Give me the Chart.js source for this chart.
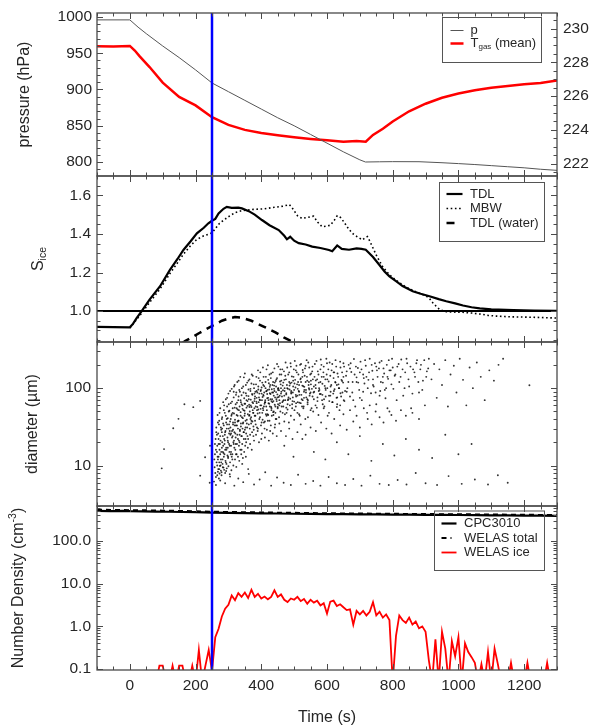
<!DOCTYPE html>
<html>
<head>
<meta charset="utf-8">
<script src="https://cdn.jsdelivr.net/npm/chart.js@4.4.1/dist/chart.umd.min.js"></script>
<style>
  html, body { margin: 0; padding: 0; background: #fff; }
  #wrap { position: relative; width: 591px; height: 727px; }
  canvas { position: absolute; left: 0; top: 0; }
</style>
</head>
<body>
<div id="wrap">
  <canvas id="c1" width="591" height="727"></canvas>
  <canvas id="c2" width="591" height="727"></canvas>
  <canvas id="c3" width="591" height="727"></canvas>
  <canvas id="c4" width="591" height="727"></canvas>
</div>
<script>
// ---- data ----
const timeLabels = [0, 200, 400, 600, 800, 1000, 1200];
const markerTime = 250;

// panel 1: chamber pressure (hPa) and mean gas temperature (K)
const pressure = [[-100,996],[0,996],[25,986],[50,977],[100,960],[150,944],[200,927],[250,909],[300,897],[350,885],
  [400,873],[450,861],[500,850],[550,838],[600,826],[650,814],[700,803],[717,800],[760,800.3],[800,800.5],[880,800.4],
  [950,799],[1000,797.8],[1050,796.5],[1100,795],[1150,793.5],[1200,792],[1250,790],[1300,788.5]];
const gasTemp = [[-100,228.95],[-50,228.93],[0,228.97],[15,228.7],[30,228.35],[60,227.72],[100,226.8],[150,225.95],
  [200,225.45],[250,224.75],[300,224.3],[350,224.0],[400,223.82],[450,223.68],[500,223.56],[550,223.46],[600,223.38],
  [650,223.3],[690,223.34],[718,223.3],[740,223.7],[770,224.07],[800,224.5],[850,225.1],[900,225.55],[950,225.9],
  [1000,226.15],[1050,226.35],[1100,226.5],[1150,226.6],[1200,226.7],[1250,226.78],[1300,226.92]];
const pressLabels = [800, 850, 900, 950, 1000];
const tempLabels = [222, 224, 226, 228, 230];

// panel 2: saturation ratio
const sIceTDL = [[-100,0.918],[-50,0.917],[0,0.916],[10,0.935],[20,0.962],[36,1.0],[60,1.06],[92,1.129],[122,1.214],
  [145,1.27],[163,1.317],[185,1.362],[204,1.403],[225,1.432],[239,1.455],[250,1.468],[260,1.478],[270,1.506],[285,1.53],
  [295,1.54],[310,1.535],[330,1.536],[341,1.532],[362,1.518],[380,1.5],[402,1.472],[425,1.445],[453,1.42],[470,1.39],
  [478,1.372],[488,1.385],[500,1.365],[514,1.352],[535,1.345],[555,1.334],[580,1.327],[606,1.317],[616,1.31],[631,1.34],
  [645,1.322],[667,1.318],[690,1.325],[705,1.322],[718,1.318],[740,1.28],[759,1.24],[775,1.205],[790,1.18],[810,1.155],
  [830,1.13],[861,1.103],[885,1.09],[912,1.077],[940,1.062],[963,1.051],[990,1.04],[1014,1.029],[1040,1.02],[1065,1.014],
  [1100,1.009],[1167,1.005],[1230,1.003],[1300,1.001]];
const sIceMBW = [[0,0.912],[36,0.99],[60,1.045],[92,1.115],[122,1.195],[145,1.25],[163,1.295],[185,1.34],[204,1.372],
  [225,1.39],[250,1.405],[273,1.455],[300,1.489],[320,1.51],[340,1.52],[376,1.527],[410,1.53],[440,1.538],[468,1.544],
  [485,1.552],[492,1.54],[500,1.52],[510,1.495],[524,1.48],[540,1.485],[559,1.492],[572,1.46],[585,1.437],[598,1.44],
  [610,1.445],[622,1.47],[631,1.494],[641,1.485],[651,1.463],[664,1.43],[677,1.403],[692,1.385],[708,1.369],[716,1.38],
  [723,1.386],[731,1.36],[738,1.334],[750,1.29],[769,1.231],[789,1.19],[810,1.16],[840,1.125],[870,1.1],[900,1.08],
  [912,1.065],[922,1.043],[935,1.02],[943,1.008],[963,0.997],[990,0.995],[1014,0.994],[1040,0.99],[1065,0.985],
  [1090,0.978],[1116,0.974],[1140,0.972],[1167,0.97],[1200,0.969],[1250,0.967],[1300,0.964]];
const sWaterTDL = [[160,0.835],[168,0.845],[190,0.865],[214,0.889],[250,0.923],[280,0.95],[305,0.964],[320,0.969],
  [340,0.966],[370,0.95],[407,0.92],[443,0.89],[470,0.862],[495,0.842],[510,0.83]];
const sLabels = [1.0, 1.2, 1.4, 1.6];

// panel 3: single particle diameters (um)
const iceSizes = [
  [97,9.2],[104,16.3],[132,30.4],[148,40.1],[166,62],[193,56.8],[214,68.5],[214,7.4],[229,12.8],[244,18],[243,6.0],
  [256,6.2],[258,9.5],[259,14],[261,22],[262,7.1],[263,31],[264,11],[266,18],[267,45],[268,8.3],[269,26],[270,13],
  [271,6.8],[272,38],[273,16],[274,9.9],[275,55],[276,21],[277,12],[278,29],[279,7.5],[280,17],[281,42],[282,10.5],
  [283,24],[284,66],[285,14.5],[286,33],[287,8.8],[288,19],
  [289,48],[290,27],[291,11.5],[292,72],[293,36],[294,16],[295,9.2],[296,58],[297,23],[298,41],[299,13],[300,85],
  [301,30],[302,19],[303,51],[304,7.7],[305,37],[306,25],[307,64],[308,15],[309,44],[310,98],[311,28],[312,12],
  [313,55],[314,34],[315,20],[316,76],[317,47],[318,17],[319,110],[320,39],
  [321,26],[322,62],[323,14],[324,88],[325,45],[326,33],[327,120],[328,53],[329,22],[330,70],[331,38],[332,18],
  [333,95],[334,58],[335,29],[336,140],[337,49],[338,66],[339,24],[340,81],[341,42],[342,10.5],[343,60],[344,35],
  [345,105],[346,52],[347,27],[348,74],[349,44],[350,155],[351,63],[352,31],[353,86],[354,20],[355,56],[356,39],
  [357,118],[358,68],[359,46],[360,9],[361,79],[362,34],[363,61],[364,130],[365,50],[366,25],[367,92],[368,71],
  [369,42],[370,57],[371,16],[372,84],[373,37],[374,145],[375,64],[376,48],[377,29],[378,100],[379,55],[380,73],
  [382,44],[384,112],[385,67],[387,31],[388,88],[390,170],[391,53],[393,76],[394,40],[396,125],[397,60],[399,95],
  [400,22],[402,70],[403,48],[405,185],[406,82],[408,58],[409,106],[411,37],[412,66],[414,140],[415,91],[417,52],
  [418,74],[420,198],[421,45],[423,116],[424,63],[426,86],[427,28],[429,135],[430,57],[432,97],[433,72],[435,160],
  [436,49],[438,80],[439,108],[441,61],[442,34],[444,124],[445,89],[447,68],[448,205],[450,55],[451,99],[453,77],
  [454,42],[456,150],[457,64],[459,112],[460,85],
  [462,58],[464,175],[466,94],[468,70],[470,128],[472,46],[474,215],[476,83],[478,110],[480,62],[482,150],[484,36],
  [486,96],[488,73],[490,190],[492,118],[494,55],[496,88],[498,140],[500,67],[502,225],[504,102],[506,78],[508,160],
  [510,48],[512,120],[514,92],[516,65],[518,200],[520,134],[522,82],[524,58],[526,172],[528,106],[530,75],[532,145],
  [534,40],[536,95],[538,230],[540,125],[542,70],[544,110],[546,185],[548,85],[550,52],[552,155],[554,98],
  [557,130],[560,72],[563,205],[566,100],[569,56],[572,165],[575,118],[578,84],[581,235],[584,140],[587,62],[590,190],
  [593,107],[596,78],[599,150],[602,44],[605,122],[608,215],[611,90],[614,170],[617,66],[620,135],[623,97],[626,230],
  [629,75],[632,155],[635,112],[638,52],[641,185],[644,128],[647,88],[650,210],[653,68],
  [658,145],[662,100],[666,200],[670,78],[674,162],[678,120],[682,238],[686,58],[690,138],[694,182],[698,95],[702,220],
  [706,70],[710,150],[714,115],[718,195],[722,48],[726,128],[730,240],[734,86],[738,168],[742,105],[746,210],[750,62],
  [754,140],[758,180],[762,92],[766,225],[770,118],[774,155],[778,74],[782,200],[786,132],[790,50],[794,170],[798,240],
  [802,98],[806,145],
  [814,190],[820,120],[826,235],[832,80],[838,160],[844,210],[850,105],[856,55],[862,175],[868,140],[874,230],[880,88],
  [886,200],[892,125],[898,60],[904,165],[910,240],
  [918,130],[926,205],[934,75],[942,175],[950,110],[960,230],[968,58],[976,150],[986,195],[994,88],[1004,240],
  [1014,128],[1024,60],[1034,185],[1044,100],[1056,215],[1068,140],[1080,70],[1094,170],[1108,125],[1122,200],
  [1136,240],[1216,109],
  [262,5.6],[275,6.4],[290,5.9],[305,7.2],[318,5.5],[330,6.8],[345,6.1],[362,7.8],[378,5.7],[395,6.6],[412,8.2],
  [430,5.5],[448,7.0],[468,6.0],[490,5.6],[512,7.6],[535,5.8],[558,6.3],[580,5.5],[605,7.1],[630,5.9],[655,5.6],
  [680,6.7],[705,5.5],[732,7.4],[760,5.8],[788,5.6],[815,6.5],[842,5.7],[870,8.0],[900,5.9],[935,5.6],[970,7.3],
  [1010,5.8],[1050,6.6],[1090,5.7],[1120,7.5],[1150,6.0],
  [470,18],[498,13],[525,22],[560,15],[595,12],[630,20],[665,14],[700,24],[735,11.5],[770,19],[805,13.5],[840,22],
  [880,16],[920,12.5],[960,25],[1000,14],[1040,19],
  [262,16],[265,25],[268,12],[271,34],[274,19],[277,8.6],[280,27],[283,15],[286,52],[289,21],[292,11],[295,40],
  [298,17],[301,62],[304,28],[307,14],[310,46],[313,24],[316,90],[319,33],[322,19],[325,55],[328,37],[331,78],
  [334,25],[337,44],[340,62],[343,30],[346,88],[349,51],[352,38],[355,70],[358,24],[361,96],[364,57],[367,40],
  [370,115],[373,66],[376,32],[379,85],[383,58],[386,92],[389,47],[392,135],[395,71],[398,54],[401,102],[404,39],
  [407,80],[410,63],[413,120],[416,44],[419,95],[422,70],[425,150],[428,84],[431,55],[434,110],[437,68],[440,92],
  [443,48],[446,130],[449,76],[452,100],[455,60],[458,175],[461,90],[464,66],[467,118],[470,80],[473,145],[476,56],
  [479,100],[482,72],[485,160],[488,115],[491,85],[494,62],[497,125],[500,95],[505,170],[510,80],[515,110],[520,64],
  [525,140],[530,90],[535,195],[540,72],[545,120],[550,88],[555,165],[560,105],[565,60],[570,130],[575,92],[580,175],
  [585,70],[590,140],[595,100],[600,210],[610,80],[620,160],[630,110],[640,60],[650,140],[660,90],[670,180],[680,70],
  [690,120],[700,160],[710,90],[720,140],[730,60],[740,110],[750,190],[760,80],[770,140],[780,100],[790,170],
  [257,12],[259,19],[260,8],[263,27],[265,15],[266,10],[268,36],[270,22],[272,9],[273,48],[275,14],[277,31],
  [278,11],[280,40],[281,20],[283,9.5],[284,35],[286,13],[287,60],[289,25],[290,16],[292,44],[293,8.5],[295,30],
  [296,75],[298,21],[299,12.5],[301,50],[302,34],[304,18],[305,92],[307,40],[308,26],[310,13],[311,67],[313,48],
  [314,29],[316,19],[317,105],[319,56],[320,36],[322,23],[323,82],[325,14],[326,65],[328,44],[329,30],[331,125],
  [332,52],[334,20],[335,90],[337,70],[338,35],[340,16],[341,100],[343,54],[344,41],[346,27],[347,138],[349,63],
  [350,47],[352,22],[353,110],[355,80],[356,35],[358,59],[359,17],[361,125],[362,72],[364,45],[365,30],[367,98],
  [368,60],[370,38],[371,150],[373,82],[374,52],[376,24],[377,112],[379,68],[380,44],[382,90],[383,34],[385,140],
  [386,75],[388,57],[389,28],[391,105],[392,66],[394,85],[395,48],[397,160],[398,92],[400,60],[401,36],[403,118],
  [404,77],[406,52],[407,140],[409,88],[410,30],[412,70],[413,100],[415,58],[416,175],[418,84],[419,46],[421,128],
  [422,64],[424,96],[425,38],[427,110],[428,72],[430,155],[431,52],[433,88],[434,66],[436,120],[437,45],[439,98],
  [440,180],[442,76],[443,58],[445,105],[446,40],[448,135],[449,83],[451,62],[452,190],[454,94],[455,70],[457,122],
  [458,50],[460,100],
  [461,150],[463,78],[465,108],[467,58],[469,165],[471,92],[473,70],[475,130],[477,48],[479,185],[481,98],[483,76],
  [485,120],[487,60],[489,210],[491,88],[493,142],[495,68],[497,105],[499,175],[501,52],[503,128],[505,82],[507,195],
  [509,112],[511,66],[513,150],[515,90],[517,44],[519,130],[521,205],[523,72],[525,108],[527,160],[529,58],[531,95],
  [533,180],[535,120],[537,76],[539,140],[541,62],[543,215],[545,100],[547,80],[549,150],[551,125],[553,55],[556,190],
  [559,88],[562,140],[565,110],[568,225],[571,76],[574,150],[577,95],[580,120],[583,200],[586,82],[589,160],[592,58],
  [595,130],[598,240],[601,100],[604,175],[607,68],[610,145],[613,110],[616,205],[619,85],[622,160],[625,120],[628,190],
  [631,62],[634,140],[637,100],[640,220],[643,78],[646,160],[649,118],[652,190],[655,92],
  [660,165],[665,120],[672,210],[677,88],[684,150],[688,190],[695,118],[700,75],[705,175],[712,135],[716,230],[724,100],
  [728,160],[736,200],[740,130],[748,88],[752,170],[760,215],[764,120],[772,180],[776,95],[784,140],[788,230],[796,112],
  [800,185],[808,150],[812,70],[818,205],[824,140],[830,175],[836,100],[842,240],[848,130],[854,190],[860,85],[866,160],
  [872,210],[878,120],[884,175],[890,95],[896,230],[902,140],[908,180],
  [266,7.5],[267,13],[269,9],[270,19],[272,11],[273,7.9],[275,24],[276,10],[278,15],[279,8.2],[281,30],[282,12],
  [284,18],[285,9.4],[287,22],[288,14],[290,8],[291,28],[293,17],[294,10.5],[296,34],[297,13.5],[299,20],[300,9.8],
  [302,26],[303,15],[305,11],[306,31],[308,18],[309,8.7],[311,23],[312,14],[314,36],[315,10],[317,21],[318,27],
  [320,12],[321,16],[323,33],[324,9.6],[326,19],[327,25],[329,13],[330,38],[332,21],[333,11.5],[335,28],[336,16],
  [338,32],[339,14],[341,24],[342,19],[344,12.5],[345,36],[347,22],[348,15],[350,29],[351,18],[353,13],[354,26],
  [357,31],[360,22],[363,44],[366,19],[369,35],[372,27],[375,48],[378,21],[381,38],[384,25],[387,52],[390,30],
  [393,20],[396,42],[399,33],[402,26],[405,55],[408,36],[411,23],[414,46],[417,29],[420,38],[423,21],[426,58],
  [429,33],[432,44],[435,26],[438,50],[441,31],[444,40],[447,24],[450,57],[455,35],[460,28],[465,48],[470,37],
  [475,24],[480,53],[485,30],[490,44],[495,22],[500,39],[505,58],[510,27],[515,46],[520,34],[528,55],[535,25],
  [542,42],[550,31],[558,50],[566,28],[574,45],[582,36],[590,55],[598,30],[606,48],[614,26],[622,40],[630,57],
  [640,33],[650,46],[660,29],[670,52],[680,37],[690,44],[700,31],[712,55],[724,40],[736,34],[748,50],[760,42],
  [772,36],[784,55],[796,45],[810,38],[825,52],[840,44],[860,48],[880,40],
  [381,78],[386,64],[391,96],[396,70],[401,85],[406,110],[411,66],[416,92],[421,75],[426,104],[431,68],[436,88],
  [441,118],[446,72],[451,95],[456,80],[461,125],[466,68],[471,100],[476,86],[481,70],[486,108],[491,92],[496,76],
  [501,115],[506,64],[511,98],[516,82],[521,120],[526,70],[531,104],[536,88],[541,66],[546,96],[551,112],[556,78],
  [561,90],[566,126],[571,68],[576,100],[581,84],[586,114],[591,72],[596,95],[601,130],[606,80],[611,105],[616,66],
  [621,92],[626,118],[631,76],[636,100],[641,86],[646,124],[651,70]
];
const diamLabels = [10, 100];

// panel 4: number densities (cm^-3); 0.05 = nothing counted (below axis)
const cpc3010 = [[-100,508],[-60,503],[-20,506],[0,499],[40,494],[80,489],[120,484],[160,478],[200,472],[250,460],
  [300,454],[350,449],[400,444],[450,440],[500,435],[550,431],[600,427],[650,424],[700,421],[750,418],[800,416],
  [850,413],[900,410],[950,408],[1000,406],[1050,403],[1100,400],[1150,397],[1200,394],[1250,391],[1300,388]];
const welasTotal = [[-100,540],[-50,533],[0,528],[50,522],[100,514],[150,506],[200,498],[250,485],[300,478],[350,472],
  [400,466],[450,461],[500,456],[550,451],[600,446],[650,442],[700,439],[750,436],[800,433],[850,430],[900,428],
  [950,425],[1000,423],[1050,420],[1100,417],[1150,414],[1200,411],[1250,408],[1300,405]];
const welasIce = [[-100,0.05],[80,0.05],[90,0.12],[100,0.12],[110,0.05],[120,0.05],[130,0.12],[140,0.05],[150,0.12],
  [160,0.12],[170,0.05],[180,0.05],[190,0.12],[200,0.05],[210,0.28],[220,0.05],[230,0.12],[240,0.28],[250,0.09],
  [260,0.56],[270,0.88],[280,1.7],[290,2.6],[300,3.2],[310,5.3],[320,4.1],[330,6.0],[340,4.9],[350,6.2],[360,4.6],
  [370,7.2],[380,4.9],[390,5.8],[400,4.5],[410,5.0],[420,4.3],[430,4.9],[440,7.0],[450,4.9],[460,5.6],[470,4.2],
  [480,3.7],[490,4.5],[500,4.2],[510,4.9],[520,3.9],[530,4.4],[540,3.4],[550,4.2],[560,3.6],[570,4.0],[580,3.1],
  [590,3.5],[600,2.0],[610,3.8],[620,4.0],[630,3.0],[640,3.3],[650,2.8],[660,2.4],[670,2.5],[680,1.1],[690,2.3],
  [700,1.9],[710,2.3],[720,1.8],[730,2.2],[740,3.7],[750,1.8],[760,2.2],[770,1.6],[780,1.9],[790,1.4],[800,0.05],
  [810,0.6],[820,1.8],[830,1.4],[840,1.2],[850,1.6],[860,1.1],[870,1.3],[880,0.9],[890,1.0],[900,0.75],[910,0.16],
  [920,0.05],[930,0.5],[940,0.05],[950,0.75],[960,0.3],[970,0.05],[980,0.45],[990,0.2],[1000,0.56],[1010,0.05],
  [1020,0.4],[1030,0.25],[1040,0.19],[1050,0.14],[1060,0.05],[1070,0.13],[1080,0.05],[1090,0.25],[1100,0.05],
  [1110,0.3],[1120,0.13],[1130,0.05],[1150,0.05],[1160,0.14],[1170,0.05],[1200,0.05],[1210,0.14],[1220,0.05],
  [1260,0.05],[1270,0.14],[1280,0.05],[1300,0.05]];
const densityLabels = [0.1, 1, 10, 100];

// ---- look ----
const H = 727;
const FONT = '"Liberation Sans", Arial, Helvetica, sans-serif';
const TXT = '#262626';
const AXIS = '#4a4a4a';
Chart.defaults.font.family = FONT;
Chart.defaults.color = TXT;

const xy = arr => arr.map(([x, y]) => ({x, y}));
const steps = (a, b, s) => { const out = []; for (let v = a; v <= b + 1e-9; v += s) out.push(+v.toFixed(4)); return out; };
const logMinor = (lo, hi) => { const out = []; for (let e = lo; e <= hi; e++) for (let m = 2; m <= 9; m++) out.push(+(m * Math.pow(10, e)).toPrecision(3)); return out; };
const without = (vals, majors) => vals.filter(v => !majors.some(m => Math.abs(m - v) < 1e-6));

function drawParts(ctx, t) {
  ctx.save();
  ctx.translate(t.x, t.y);
  if (t.rotate) ctx.rotate(-Math.PI / 2);
  ctx.textBaseline = 'middle';
  ctx.fillStyle = TXT;
  const widths = t.parts.map(p => { ctx.font = p.size + 'px ' + FONT; return ctx.measureText(p.t).width; });
  let cx = t.align === 'left' ? 0 : -widths.reduce((a, b) => a + b, 0) / 2;
  t.parts.forEach((p, i) => {
    ctx.font = p.size + 'px ' + FONT;
    ctx.fillText(p.t, cx, p.dy || 0);
    cx += widths[i];
  });
  ctx.restore();
}

function drawLegend(chart, lg) {
  const ctx = chart.ctx;
  ctx.save();
  ctx.strokeStyle = '#555';
  ctx.lineWidth = 1;
  const [x1, y1, x2, y2] = lg.box;
  ctx.strokeRect(x1 + 0.5, y1 + 0.5, x2 - x1, y2 - y1);
  lg.rows.forEach(r => {
    const ds = chart.data.datasets[r.ds];
    const [s1, s2] = r.sample || lg.sample;
    ctx.beginPath();
    ctx.strokeStyle = ds.borderColor;
    ctx.lineWidth = ds.borderWidth;
    ctx.setLineDash(ds.borderDash || []);
    ctx.moveTo(s1, r.y);
    ctx.lineTo(s2, r.y);
    ctx.stroke();
    ctx.setLineDash([]);
    drawParts(ctx, {x: lg.textX, y: r.y, parts: r.parts, align: 'left'});
  });
  ctx.restore();
}

// frame, inward tick marks, legend box and rich-text labels
function decor(cfg) {
  return [{
    id: 'decor',
    afterDatasetsDraw(chart) {
      const {ctx, chartArea: a} = chart;
      ctx.save();
      ctx.strokeStyle = AXIS;
      ctx.lineWidth = 1;
      ctx.beginPath();
      cfg.ticks.forEach(set => {
        const sc = chart.scales[set.scale];
        [[set.major, 6], [set.minor, 3.5]].forEach(([vals, len]) => {
          vals.forEach(v => {
            if (v < sc.min || v > sc.max) return;
            const p = Math.round(sc.getPixelForValue(v)) + 0.5;
            set.sides.forEach(side => {
              if (side === 'top') { ctx.moveTo(p, a.top); ctx.lineTo(p, a.top + len); }
              if (side === 'bottom') { ctx.moveTo(p, a.bottom); ctx.lineTo(p, a.bottom - len); }
              if (side === 'left') { ctx.moveTo(a.left, p); ctx.lineTo(a.left + len, p); }
              if (side === 'right') { ctx.moveTo(a.right, p); ctx.lineTo(a.right - len, p); }
            });
          });
        });
      });
      ctx.stroke();
      ctx.lineWidth = 1.3;
      ctx.strokeRect(a.left, a.top, a.right - a.left, a.bottom - a.top);
      ctx.restore();
    },
    afterDraw(chart) {
      if (cfg.legend) drawLegend(chart, cfg.legend);
      (cfg.texts || []).forEach(t => drawParts(chart.ctx, t));
    }
  }];
}

const timeTickSet = {scale: 'x', major: timeLabels, minor: without(steps(-100, 1300, 50), timeLabels), sides: ['top', 'bottom']};

function timeAxis(showLabels, bottom) {
  return {
    type: 'linear', min: -100, max: 1300,
    grid: {display: false, drawTicks: false}, border: {display: false},
    afterBuildTicks: s => { s.ticks = timeLabels.map(v => ({value: v})); },
    ticks: {display: showLabels, padding: 6, font: {size: 15.5}, color: TXT, maxRotation: 0, autoSkip: false, callback: v => String(v)},
    title: {display: showLabels, text: 'Time (s)', font: {size: 16}, color: TXT, padding: {top: 0, bottom: 0}},
    afterFit: s => { s.height = showLabels ? H - bottom : 0; s.paddingLeft = 0; s.paddingRight = 0; }
  };
}

function valueAxis(o) {
  return {
    type: o.log ? 'logarithmic' : 'linear',
    position: o.position || 'left',
    min: o.min, max: o.max,
    grid: {display: false, drawTicks: false}, border: {display: false},
    afterBuildTicks: s => { s.ticks = o.labels.map(v => ({value: v})); },
    ticks: {padding: o.pad, font: {size: 15.5}, color: TXT, autoSkip: false, callback: o.fmt},
    title: o.title ? {display: true, text: o.title, font: {size: 16}, color: TXT, padding: {top: o.titlePad, bottom: 0}} : {display: false},
    afterFit: s => { s.width = o.width; s.paddingTop = 0; s.paddingBottom = 0; }
  };
}

function baseOptions(o) {
  return {
    responsive: false, animation: false, devicePixelRatio: 1, events: [],
    layout: {autoPadding: false, padding: {left: 0, right: o.right, top: o.top, bottom: o.showTime ? 0 : H - o.bottom}},
    elements: {point: {radius: 0}, line: {tension: 0, fill: false, borderCapStyle: 'butt'}},
    plugins: {legend: {display: false}, tooltip: {enabled: false}},
    scales: Object.assign({x: timeAxis(o.showTime, o.bottom)}, o.scales)
  };
}

const marker = (lo, hi, axis) => ({label: 'marker', data: [{x: markerTime, y: lo}, {x: markerTime, y: hi}],
  yAxisID: axis, borderColor: '#0000ff', borderWidth: 2.5});

// ---- panel 1 ----
new Chart(document.getElementById('c1'), {
  type: 'line',
  data: {datasets: [
    marker(770, 1010, 'y'),
    {label: 'p', data: xy(pressure), yAxisID: 'y', borderColor: '#555555', borderWidth: 1},
    {label: 'T gas (mean)', data: xy(gasTemp), yAxisID: 'y2', borderColor: '#ff0000', borderWidth: 2.5}
  ]},
  options: baseOptions({top: 13, bottom: 176, right: 0, showTime: false, scales: {
    y: valueAxis({min: 780.7, max: 1005.5, labels: pressLabels, pad: 5, width: 97, fmt: v => String(v),
      title: 'pressure (hPa)', titlePad: 15.4}),
    y2: valueAxis({position: 'right', min: 221.27, max: 230.92, labels: tempLabels, pad: 6, width: 34, fmt: v => String(v)})
  }}),
  plugins: decor({
    ticks: [timeTickSet,
      {scale: 'y', major: pressLabels, minor: without(steps(790, 1000, 10), pressLabels), sides: ['left']},
      {scale: 'y2', major: tempLabels, minor: without(steps(221.5, 230.5, 0.5), tempLabels), sides: ['right']}],
    legend: {box: [442, 17, 541, 62], sample: [450.5, 463.5], textX: 470.5, rows: [
      {ds: 1, y: 30.5, parts: [{t: 'p', size: 13}]},
      {ds: 2, y: 43.5, parts: [{t: 'T', size: 13}, {t: 'gas', size: 8, dy: 3.5}, {t: ' (mean)', size: 13}]}
    ]}
  })
});

// ---- panel 2 ----
new Chart(document.getElementById('c2'), {
  type: 'line',
  data: {datasets: [
    marker(0.8, 1.75, 'y'),
    {label: 'S = 1', data: [{x: -100, y: 1}, {x: 1300, y: 1}], borderColor: '#000', borderWidth: 2},
    {label: 'TDL', data: xy(sIceTDL), borderColor: '#000', borderWidth: 2.2},
    {label: 'MBW', data: xy(sIceMBW), borderColor: '#000', borderWidth: 1.6, borderDash: [1.6, 2.6]},
    {label: 'TDL (water)', data: xy(sWaterTDL), borderColor: '#000', borderWidth: 2.5, borderDash: [8, 6]}
  ]},
  options: baseOptions({top: 176, bottom: 342, right: 34, showTime: false, scales: {
    y: valueAxis({min: 0.84, max: 1.70, labels: sLabels, pad: 6, width: 97, fmt: v => v.toFixed(1)})
  }}),
  plugins: decor({
    ticks: [timeTickSet,
      {scale: 'y', major: sLabels, minor: without(steps(0.85, 1.65, 0.05), sLabels), sides: ['left', 'right']}],
    legend: {box: [439, 182, 544, 241], sample: [446.5, 462.5], textX: 470, rows: [
      {ds: 2, y: 194, parts: [{t: 'TDL', size: 13}]},
      {ds: 3, y: 208.5, parts: [{t: 'MBW', size: 13}]},
      {ds: 4, y: 223, sample: [446.5, 455.5], parts: [{t: 'TDL (water)', size: 13}]}
    ]},
    texts: [{x: 39, y: 259, rotate: true, parts: [{t: 'S', size: 16}, {t: 'ice', size: 10.5, dy: 4.5}]}]
  })
});

// ---- panel 3 ----
new Chart(document.getElementById('c3'), {
  type: 'line',
  data: {datasets: [
    marker(2, 500, 'y'),
    {label: 'ice particles', data: xy(iceSizes), showLine: false, pointRadius: 0.95,
      pointBackgroundColor: 'rgba(0,0,0,0.8)', pointBorderWidth: 0}
  ]},
  options: baseOptions({top: 342, bottom: 506, right: 34, showTime: false, scales: {
    y: valueAxis({log: true, min: 3, max: 395, labels: diamLabels, pad: 6, width: 97, fmt: v => String(v),
      title: 'diameter (\u00b5m)', titlePad: 23.4})
  }}),
  plugins: decor({
    ticks: [timeTickSet,
      {scale: 'y', major: diamLabels, minor: logMinor(0, 2), sides: ['left', 'right']}]
  })
});

// ---- panel 4 ----
new Chart(document.getElementById('c4'), {
  type: 'line',
  data: {datasets: [
    marker(0.05, 1000, 'y'),
    {label: 'CPC3010', data: xy(cpc3010), borderColor: '#000', borderWidth: 2.2},
    {label: 'WELAS total', data: xy(welasTotal), borderColor: '#000', borderWidth: 2, borderDash: [5, 4]},
    {label: 'WELAS ice', data: xy(welasIce), borderColor: '#ff0000', borderWidth: 1.8}
  ]},
  options: baseOptions({top: 506, bottom: 670, right: 34, showTime: true, scales: {
    y: valueAxis({log: true, min: 0.095, max: 660, labels: densityLabels, pad: 6, width: 97, fmt: v => v.toFixed(1)})
  }}),
  plugins: decor({
    ticks: [timeTickSet,
      {scale: 'y', major: densityLabels, minor: logMinor(-1, 2), sides: ['left', 'right']}],
    legend: {box: [434, 510.5, 544, 570], sample: [441.5, 456.5], textX: 464, rows: [
      {ds: 1, y: 523.5, parts: [{t: 'CPC3010', size: 13}]},
      {ds: 2, y: 538, sample: [441.5, 451.5], parts: [{t: 'WELAS total', size: 13}]},
      {ds: 3, y: 552.5, parts: [{t: 'WELAS ice', size: 13}]}
    ]},
    texts: [{x: 19, y: 588, rotate: true, parts: [{t: 'Number Density (cm', size: 16}, {t: '-3', size: 10.5, dy: -6}, {t: ')', size: 16}]}]
  })
});
</script>
</body>
</html>
